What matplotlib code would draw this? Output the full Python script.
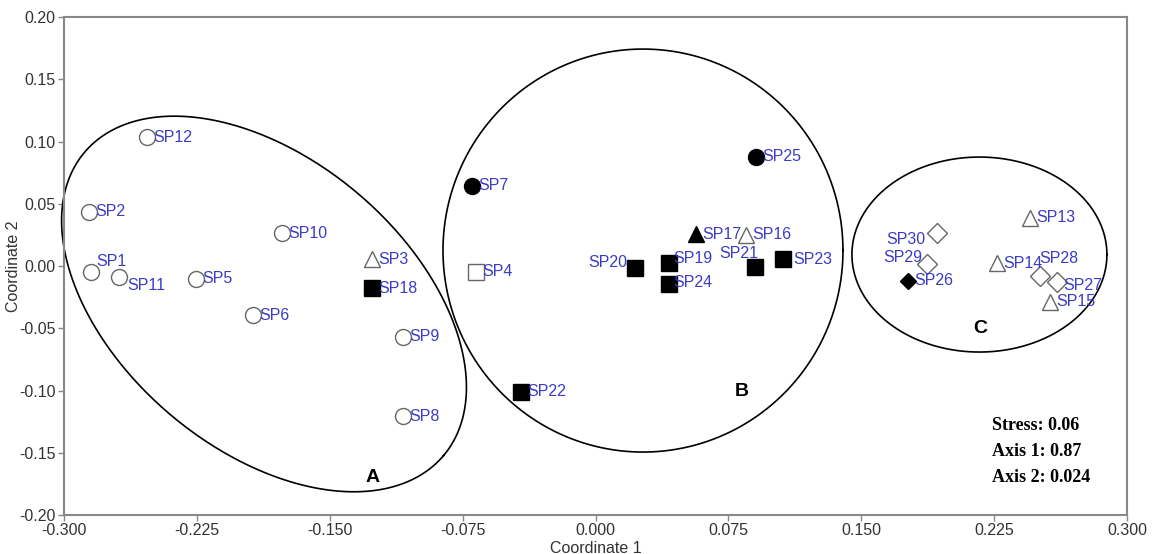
import numpy as np
import matplotlib.pyplot as plt

# ---- data ----
names = ['SP1', 'SP2', 'SP3', 'SP4', 'SP5', 'SP6', 'SP7', 'SP8', 'SP9', 'SP10',
         'SP11', 'SP12', 'SP13', 'SP14', 'SP15', 'SP16', 'SP17', 'SP18', 'SP19', 'SP20',
         'SP21', 'SP22', 'SP23', 'SP24', 'SP25', 'SP26', 'SP27', 'SP28', 'SP29', 'SP30']
coord1 = [-0.2847, -0.2859, -0.1261, -0.0675, -0.2255, -0.1933, -0.0697, -0.1087, -0.1087, -0.1769,
          -0.2690, -0.2532, 0.2452, 0.2266, 0.2566, 0.0849, 0.0567, -0.1261, 0.0415, 0.0223,
          0.0900, -0.0420, 0.1058, 0.0415, 0.0906, 0.1764, 0.2605, 0.2509, 0.1871, 0.1929]
coord2 = [-0.0048, 0.0434, 0.0056, -0.0048, -0.0104, -0.0394, 0.0643, -0.1205, -0.0570, 0.0265,
          -0.0088, 0.1036, 0.0386, 0.0024, -0.0289, 0.0249, 0.0257, -0.0177, 0.0024, -0.0016,
          -0.0008, -0.1012, 0.0056, -0.0145, 0.0876, -0.0120, -0.0129, -0.0080, 0.0016, 0.0265]
shapes = ['o', 'o', '^', 's', 'o', 'o', 'o', 'o', 'o', 'o',
          'o', 'o', '^', '^', '^', '^', '^', 's', 's', 's',
          's', 's', 's', 's', 'o', 'D', 'D', 'D', 'D', 'D']
filled = [0, 0, 0, 0, 0, 0, 1, 0, 0, 0,
          0, 0, 0, 0, 0, 0, 1, 1, 1, 1,
          1, 1, 1, 1, 1, 1, 0, 0, 0, 0]

groups = ['A', 'B', 'C']
stats = ['Stress: 0.06', 'Axis 1: 0.87', 'Axis 2: 0.024']

# ---- figure ----
W, H, DPI = 11.52, 5.54, 100
fig = plt.figure(figsize=(W, H), dpi=DPI)
L, R, B, T = 64 / 1152, 1127 / 1152, 1 - 515 / 554, 1 - 17 / 554
ax = fig.add_axes([L, B, R - L, T - B])
ax.set_xlim(-0.3, 0.3)
ax.set_ylim(-0.2, 0.2)

# pixels per data unit (for drawing ellipses in screen space)
kx = (R - L) * W * DPI / 0.6
ky = (T - B) * H * DPI / 0.4

sizes = {'o': 11.5, 's': 11, '^': 12, 'D': 10}
for x, y, m, f in zip(coord1, coord2, shapes, filled):
    ms = sizes[m] - (1.5 if (m == 'D' and f) else 0)
    ax.plot(x, y, marker=m, ms=ms, ls='none',
            mfc='black' if f else 'white',
            mec='black' if f else '#666666', mew=1.0, zorder=3)

# label offsets in pixels (dx, dy-up, ha)
offs = {'SP1': (5, 10, 'left'), 'SP11': (8, -9, 'left'), 'SP20': (-8, 5, 'right'),
        'SP21': (3, 13, 'right'), 'SP23': (10, 0, 'left'), 'SP19': (4, 5, 'left'),
        'SP24': (4, 2, 'left'), 'SP30': (-12, -6, 'right'), 'SP29': (-5, 7, 'right'),
        'SP28': (-1, 17, 'left'), 'SP27': (6, -3, 'left')}
for n, x, y in zip(names, coord1, coord2):
    dx, dy, ha = offs.get(n, (6, 0, 'left'))
    ax.annotate(n, (x, y), xytext=(dx * 72 / DPI, dy * 72 / DPI), textcoords='offset points',
                ha=ha, va='center', color='#3b3bc6', fontsize=11.5,
                family=['Liberation Sans', 'DejaVu Sans'], zorder=4)

# cluster ellipses: center (data), semi-axes (px), angle (deg)
ellipses = [(-0.1871, -0.0305, 235, 145, -40.2),
            (0.0268, 0.0124, 200, 201.5, 0),
            (0.2167, 0.0092, 127.5, 97.5, 0)]
t = np.linspace(0, 2 * np.pi, 400)
for cx, cy, a, b, ang in ellipses:
    th = np.radians(ang)
    px = a * np.cos(t) * np.cos(th) - b * np.sin(t) * np.sin(th)
    py = a * np.cos(t) * np.sin(th) + b * np.sin(t) * np.cos(th)
    ax.plot(cx + px / kx, cy + py / ky, color='black', lw=1.2, zorder=2, clip_on=False)

for g, (gx, gy) in zip(groups, [(-0.1261, -0.1695), (0.0826, -0.1012), (0.2169, -0.0498)]):
    ax.text(gx, gy, g, ha='center', va='center', fontsize=14, fontweight='bold',
            family=['Liberation Sans', 'DejaVu Sans'])

for i, s in enumerate(stats):
    ax.text(992 / 1152, 1 - (426 + 26 * i) / 554, s, transform=fig.transFigure,
            ha='left', va='center', fontsize=13, fontweight='bold',
            family=['Liberation Serif', 'DejaVu Serif'])

# axes styling
xt = np.arange(-0.3, 0.3001, 0.075)
yt = np.arange(-0.2, 0.2001, 0.05)
ax.set_xticks(xt)
ax.set_yticks(yt)
ax.set_xticklabels([f'{round(v, 3) + 0.0:.3f}' for v in xt])
ax.set_yticklabels([f'{round(v, 2) + 0.0:.2f}' for v in yt])
font = ['Liberation Sans', 'DejaVu Sans']
for lab in ax.get_xticklabels() + ax.get_yticklabels():
    lab.set_family(font)
    lab.set_fontsize(11.5)
    lab.set_color('#333333')
ax.tick_params(length=4, width=1, color='#888888', pad=2)
for sp in ax.spines.values():
    sp.set_color('#888888')
    sp.set_linewidth(1.5)
ax.set_xlabel('Coordinate 1', family=font, fontsize=11.5, color='#333333', labelpad=2)
ax.set_ylabel('Coordinate 2', family=font, fontsize=11.5, color='#333333')
ax.yaxis.set_label_coords(-0.040, 0.5)

fig.savefig('out.png', dpi=DPI)
